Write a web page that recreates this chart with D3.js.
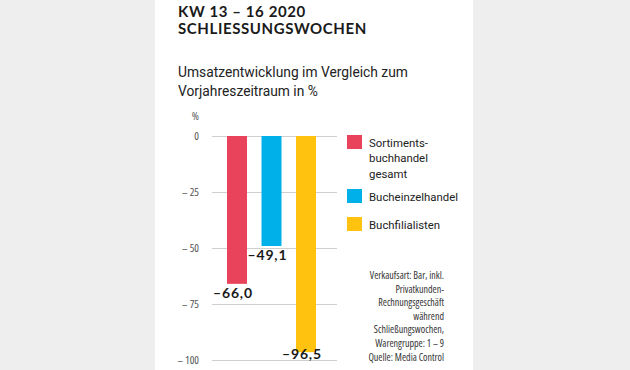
<!DOCTYPE html>
<html>
<head>
<meta charset="utf-8">
<script src="https://cdn.jsdelivr.net/npm/d3@7"></script>
<style>
  body { margin: 0; background: #eeeeee; }
  svg { display: block; }
  .cond { font-family: "Open Sans", "Roboto", sans-serif; font-stretch: 75%; }
  .roboto { font-family: "Roboto", sans-serif; }
  .bold { font-family: "Lato", "Open Sans", sans-serif; font-weight: 700; }
</style>
</head>
<body>
<div id="chart"></div>
<script>
var categories = ["Sortimentsbuchhandel gesamt", "Bucheinzelhandel", "Buchfilialisten"];
var values = [-66.0, -49.1, -96.5];
var valueLabels = ["–66,0", "–49,1", "–96,5"];
var colors = ["#e8435a", "#00b0e8", "#fec20f"];
var yTicks = [0, -25, -50, -75, -100];
var legendLines = [["Sortiments-", "buchhandel", "gesamt"], ["Bucheinzelhandel"], ["Buchfilialisten"]];
var noteLines = ["Verkaufsart: Bar, inkl.", "Privatkunden-", "Rechnungsgeschäft", "während", "Schließungswochen,", "Warengruppe: 1 – 9", "Quelle: Media Control"];

var width = 630, height = 370;

var svg = d3.select("#chart").append("svg")
    .attr("width", width)
    .attr("height", height);

// white panel
svg.append("rect")
    .attr("x", 155).attr("y", 0)
    .attr("width", 318).attr("height", height)
    .attr("fill", "#ffffff");

// title
var title = svg.append("text")
    .attr("class", "bold")
    .style("font-size", "15px")
    .style("letter-spacing", "0.6px")
    .attr("fill", "#1a1a1a");
title.append("tspan").attr("x", 178).attr("y", 17).text("KW 13 – 16 2020");
title.append("tspan").attr("x", 178).attr("y", 34).text("SCHLIESSUNGSWOCHEN");

var sub = svg.append("text")
    .attr("class", "roboto")
    .style("font-size", "13.8px")
    .attr("fill", "#222");
sub.append("tspan").attr("x", 178).attr("y", 77).text("Umsatzentwicklung im Vergleich zum");
sub.append("tspan").attr("x", 178).attr("y", 96).text("Vorjahreszeitraum in %");

// scales
var y = d3.scaleLinear().domain([0, -100]).range([136, 360]);
var x = d3.scaleBand().domain(categories).range([227, 316]).paddingInner(0.42).paddingOuter(0);

// gridlines
svg.append("g")
  .selectAll("line")
  .data(yTicks)
  .join("line")
    .attr("x1", 212).attr("x2", 337)
    .attr("y1", function(d) { return y(d) + 0.5; })
    .attr("y2", function(d) { return y(d) + 0.5; })
    .attr("stroke", "#cfcfcf")
    .attr("stroke-width", 1);

// y axis labels
var yAxis = svg.append("g")
    .attr("transform", "translate(199,0)")
    .call(d3.axisLeft(y).tickValues(yTicks).tickSize(0).tickPadding(0)
      .tickFormat(function(d) { return d === 0 ? "0" : "– " + Math.abs(d); }));
yAxis.select(".domain").remove();
yAxis.selectAll("text")
    .attr("class", "cond")
    .style("font-size", "11px")
    .attr("fill", "#555");

svg.append("text")
    .attr("class", "cond")
    .attr("x", 199).attr("y", 120)
    .attr("text-anchor", "end")
    .style("font-size", "11px")
    .attr("fill", "#555")
    .text("%");

// bars
svg.append("g")
  .selectAll("rect")
  .data(values)
  .join("rect")
    .attr("x", function(d, i) { return x(categories[i]); })
    .attr("y", y(0))
    .attr("width", x.bandwidth())
    .attr("height", function(d) { return y(d) - y(0); })
    .attr("fill", function(d, i) { return colors[i]; });

// value labels
svg.append("g")
  .selectAll("text")
  .data(values)
  .join("text")
    .attr("class", "bold")
    .attr("x", function(d, i) { return x(categories[i]) + x.bandwidth() / 2 - 4; })
    .attr("y", function(d) { return Math.min(y(d) + 14, y(-100) - 1); })
    .attr("text-anchor", "middle")
    .style("font-size", "14px")
    .style("letter-spacing", "0.8px")
    .attr("fill", "#1a1a1a")
    .text(function(d, i) { return valueLabels[i]; });

// legend
var legendY = [135, 189, 217];
var legend = svg.append("g")
  .selectAll("g")
  .data(categories)
  .join("g")
    .attr("transform", function(d, i) { return "translate(347," + legendY[i] + ")"; });

legend.append("rect")
    .attr("width", 15).attr("height", 14)
    .attr("fill", function(d, i) { return colors[i]; });

legend.append("text")
    .attr("class", "roboto")
    .style("font-size", "11.4px")
    .attr("fill", "#222")
  .selectAll("tspan")
  .data(function(d, i) { return legendLines[i]; })
  .join("tspan")
    .attr("x", 22)
    .attr("y", function(d, j) { return 11.5 + j * 15.5; })
    .text(function(d) { return d; });

// note
svg.append("text")
    .attr("class", "cond")
    .attr("text-anchor", "end")
    .style("font-size", "10px")
    .attr("fill", "#333")
  .selectAll("tspan")
  .data(noteLines)
  .join("tspan")
    .attr("x", 444)
    .attr("y", function(d, i) { return 279 + i * 13.6; })
    .text(function(d) { return d; });
</script>
</body>
</html>
